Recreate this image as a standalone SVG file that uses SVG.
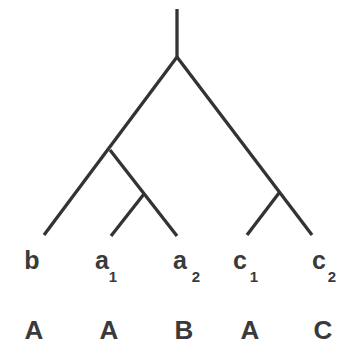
<svg xmlns="http://www.w3.org/2000/svg" width="337" height="344" viewBox="0 0 337 344">
<style>
.e{stroke:#333;stroke-width:3.3;fill:none;stroke-linecap:butt}
.t{font-family:"Liberation Sans",Arial,sans-serif;font-weight:bold;fill:#3a3a3a;text-anchor:middle}
.l{font-size:25px}
.s{font-size:15px}
.c{font-size:26px}
</style>
<rect width="337" height="344" fill="#fff"/>
<g id="connectors">
<path class="e" d="M177 9V57"/>
<path class="e" d="M177 57L44 235"/>
<path class="e" d="M110 150L177 236"/>
<path class="e" d="M144 194L111 236"/>
<path class="e" d="M177 57L312 235"/>
<path class="e" d="M279 193L247 235"/>
</g>
<g id="b"><text class="t l" x="32" y="269">b</text><text class="t c" x="34" y="339">A</text></g>
<g id="a1"><text class="t l" x="102" y="269">a</text><text class="t s" x="113" y="282">1</text><text class="t c" x="109" y="339">A</text></g>
<g id="a2"><text class="t l" x="180" y="269">a</text><text class="t s" x="196" y="282">2</text><text class="t c" x="184" y="339">B</text></g>
<g id="c1"><text class="t l" x="240" y="269">c</text><text class="t s" x="254" y="282">1</text><text class="t c" x="250" y="339">A</text></g>
<g id="c2"><text class="t l" x="319" y="269">c</text><text class="t s" x="332" y="282">2</text><text class="t c" x="323" y="339">C</text></g>
</svg>
